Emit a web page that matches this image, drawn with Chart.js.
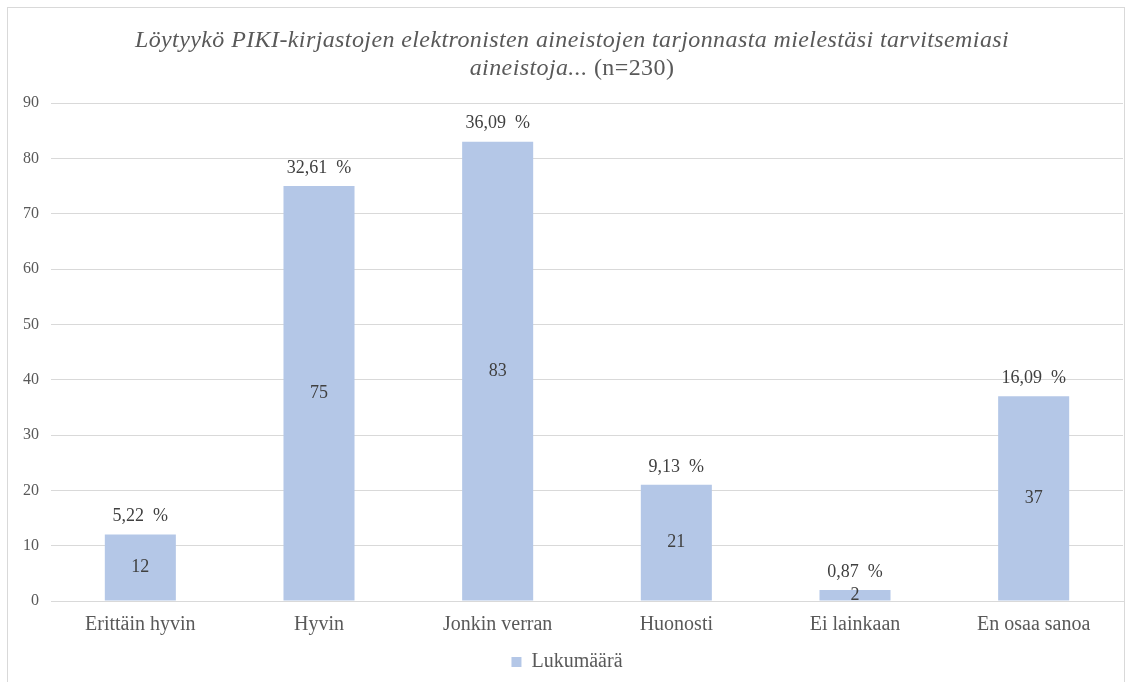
<!DOCTYPE html>
<html>
<head>
<meta charset="utf-8">
<script src="https://cdn.jsdelivr.net/npm/chart.js@4/dist/chart.umd.min.js"></script>
<style>
  html, body { margin: 0; padding: 0; background: #fff; }
  #wrap { position: relative; width: 1134px; height: 682px; }
  #frame { position: absolute; left: 7px; top: 7px; width: 1118px; height: 690px; border: 1px solid #d9d9d9; box-sizing: border-box; pointer-events: none; }
  canvas { position: absolute; left: 0; top: 0; }
</style>
</head>
<body>
<div id="wrap">
  <canvas id="c" width="1134" height="682"></canvas>
  <div id="frame"></div>
</div>
<script>
const categories = ['Erittäin hyvin', 'Hyvin', 'Jonkin verran', 'Huonosti', 'Ei lainkaan', 'En osaa sanoa'];
const counts = [12, 75, 83, 21, 2, 37];
const percents = [5.22, 32.61, 36.09, 9.13, 0.87, 16.09];
const seriesName = 'Lukumäärä';
const titleLine1 = 'Löytyykö PIKI-kirjastojen elektronisten aineistojen tarjonnasta mielestäsi tarvitsemiasi';
const titleLine2Italic = 'aineistoja... ';
const titleLine2Plain = '(n=230)';
const yMin = 0, yMax = 90, yStep = 10;

const FONT = "'Liberation Serif', 'Times New Roman', serif";
const TEXT = '#595959';

const titlePlugin = {
  id: 'mixedTitle',
  afterDraw(chart) {
    const ctx = chart.ctx;
    const cx = chart.width / 2 + 5;
    ctx.save();
    ctx.fillStyle = TEXT;
    ctx.textBaseline = 'middle';
    ctx.textAlign = 'center';
    ctx.letterSpacing = '0.4px';
    ctx.font = "italic 24px " + FONT;
    ctx.fillText(titleLine1, cx, 41);
    const w1 = ctx.measureText(titleLine2Italic).width;
    ctx.font = "24px " + FONT;
    const w2 = ctx.measureText(titleLine2Plain).width;
    const start = cx - (w1 + w2) / 2;
    ctx.textAlign = 'left';
    ctx.font = "italic 24px " + FONT;
    ctx.fillText(titleLine2Italic, start, 69);
    ctx.font = "24px " + FONT;
    ctx.fillText(titleLine2Plain, start + w1, 69);
    ctx.restore();
  }
};

const labelPlugin = {
  id: 'barLabels',
  afterDatasetsDraw(chart) {
    const ctx = chart.ctx;
    const meta = chart.getDatasetMeta(0);
    ctx.save();
    ctx.fillStyle = '#404040';
    ctx.textAlign = 'center';
    ctx.textBaseline = 'middle';
    ctx.font = "18px " + FONT;
    meta.data.forEach((bar, i) => {
      ctx.fillText(String(counts[i]), bar.x, (bar.y + bar.base) / 2);
      ctx.fillText(percents[i].toFixed(2).replace('.', ',') + '  %', bar.x, bar.y - 18);
    });
    ctx.restore();
  }
};

new Chart(document.getElementById('c'), {
  type: 'bar',
  data: {
    labels: categories,
    datasets: [{
      label: seriesName,
      data: counts,
      backgroundColor: '#B4C7E7',
      borderWidth: 0,
      categoryPercentage: 0.8,
      barPercentage: 0.497
    }]
  },
  options: {
    responsive: false,
    animation: false,
    layout: { padding: { top: 103, right: 11, left: 11, bottom: 0 } },
    plugins: {
      title: { display: false },
      tooltip: { enabled: false },
      legend: {
        display: true,
        position: 'bottom',
        labels: {
          color: TEXT,
          font: { family: FONT, size: 20 },
          boxWidth: 10,
          boxHeight: 10,
          padding: 3
        }
      }
    },
    scales: {
      x: {
        grid: { display: false, drawTicks: false },
        border: { display: true, color: '#d9d9d9', width: 1 },
        ticks: { color: TEXT, font: { family: FONT, size: 20 }, padding: 12, maxRotation: 0 }
      },
      y: {
        min: yMin, max: yMax,
        grid: { color: '#d9d9d9', drawTicks: false },
        border: { display: false },
        ticks: { stepSize: yStep, color: TEXT, font: { family: FONT, size: 16 }, padding: 12 }
      }
    }
  },
  plugins: [titlePlugin, labelPlugin]
});
</script>
</body>
</html>
